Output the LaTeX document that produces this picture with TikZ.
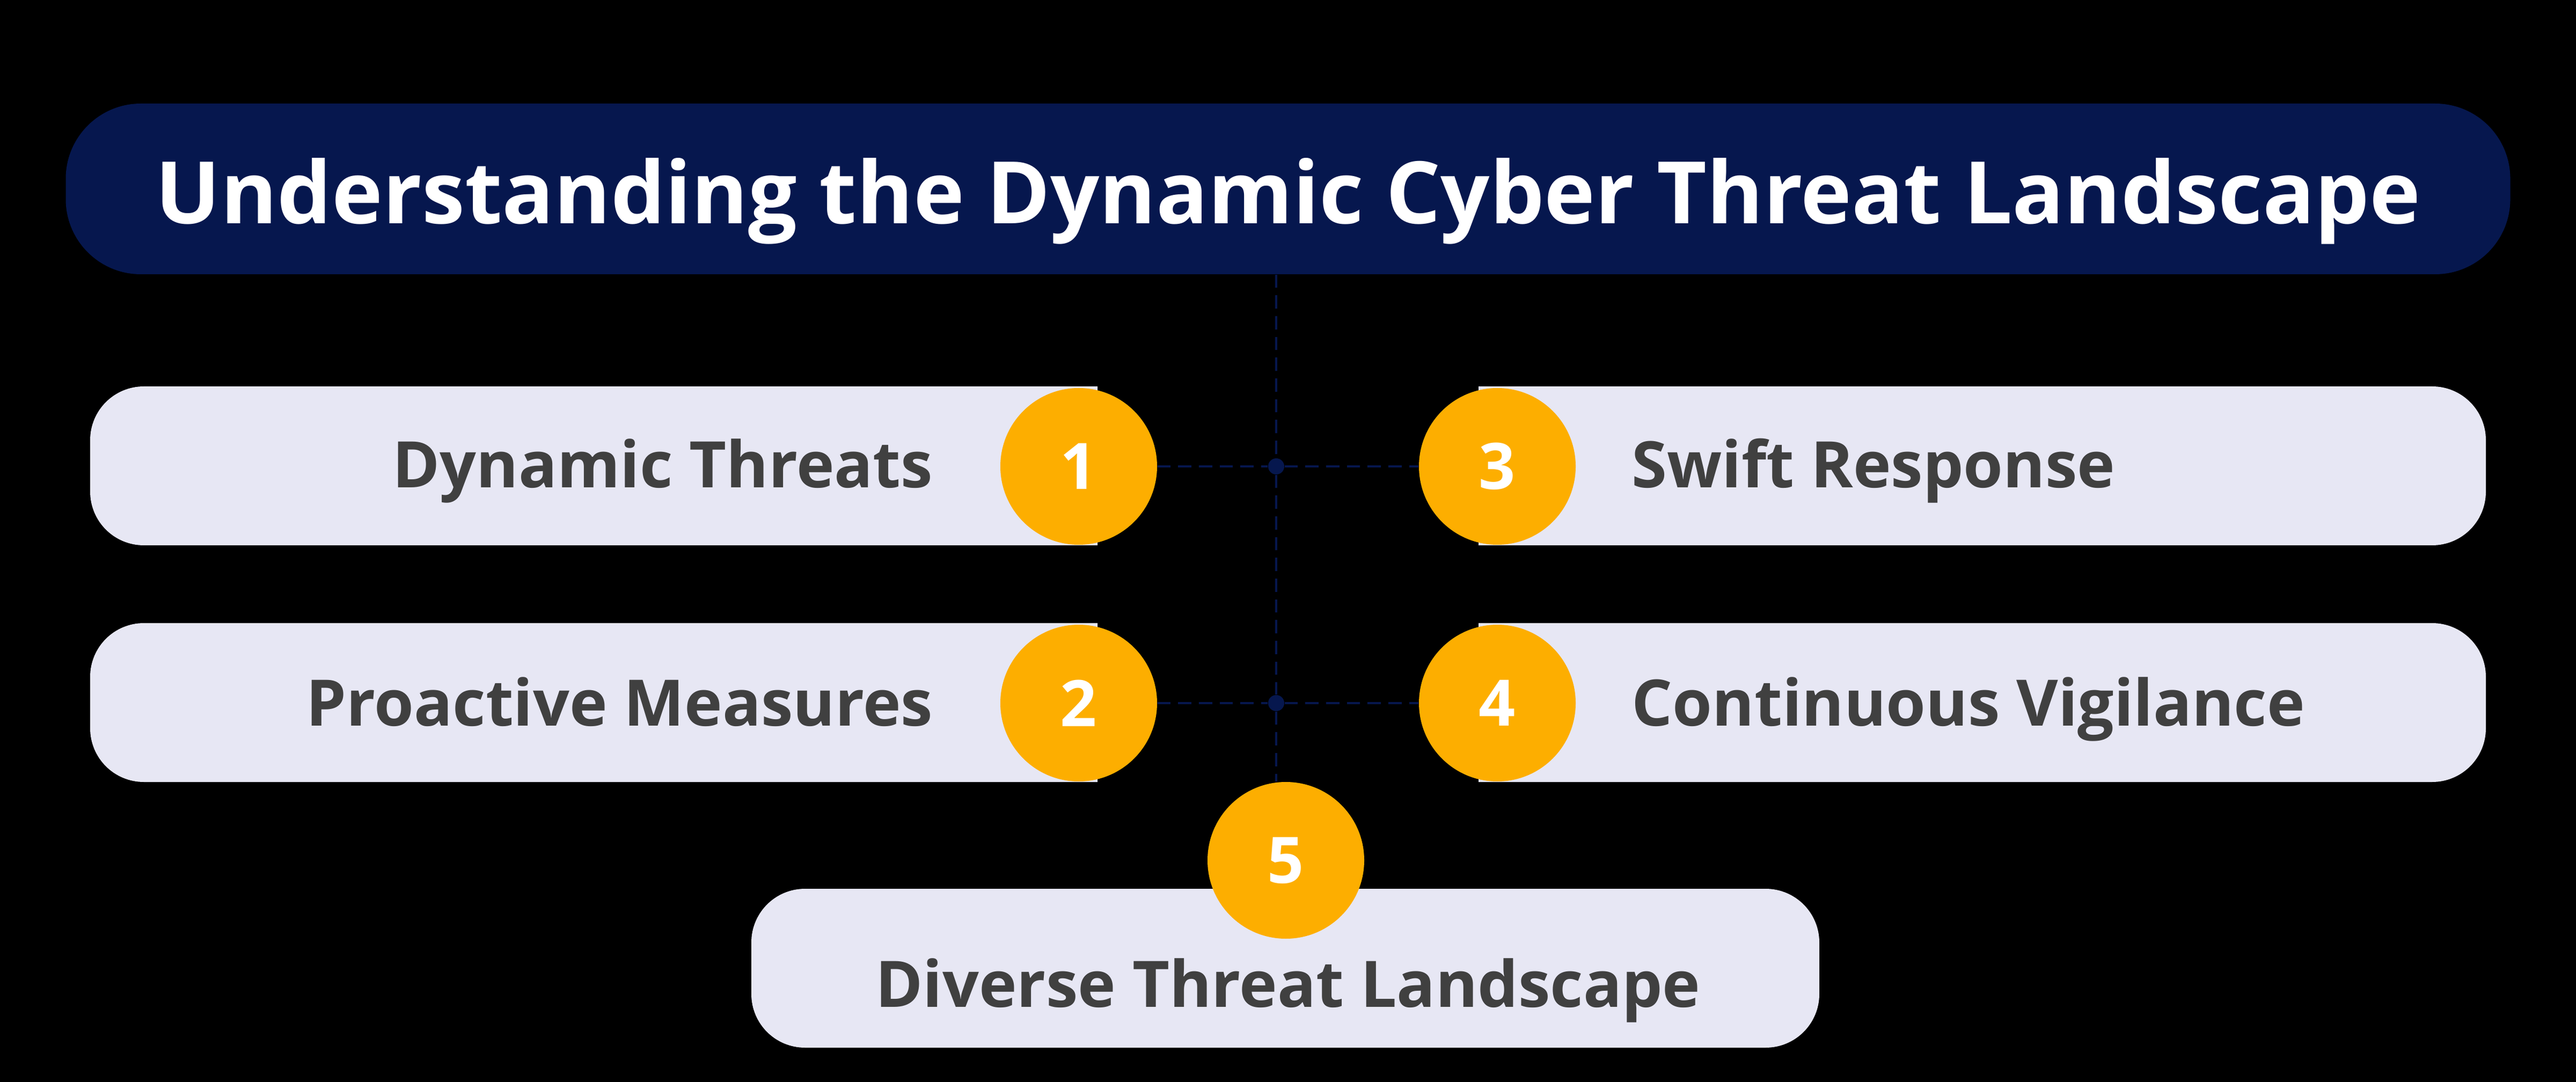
\documentclass[tikz,border=0pt]{standalone}
\usepackage{fontspec}
\setmainfont{Open Sans}
\definecolor{navy}{HTML}{06174E}
\definecolor{pillc}{HTML}{E7E7F4}
\definecolor{gold}{HTML}{FDAE00}
\definecolor{ink}{HTML}{404040}
\tikzset{
  pill/.style={fill=pillc, rounded corners=1cm, minimum height=2.96cm, inner sep=0pt},
  num/.style={circle, fill=gold, minimum size=2.92cm, inner sep=0pt, text=white, font=\fontsize{34}{40}\selectfont\bfseries},
  lbl/.style={inner sep=0pt, text=ink, font=\fontsize{34}{40}\selectfont\bfseries},
  dline/.style={navy, line width=1.4pt, dash pattern=on 7pt off 4pt},
  jdot/.style={circle, fill=navy, minimum size=0.3cm, inner sep=0pt}
}
\begin{document}
\begin{tikzpicture}
      \fill[black] (0,0) rectangle (48,-20.16);
      \useasboundingbox (0,0) rectangle (48,-20.16);

      \node[fill=navy, rounded corners=1.4cm, minimum width=45.55cm, minimum height=3.18cm,
            text=white, font=\fontsize{45.7}{52}\selectfont\bfseries, text height=1.3cm, text depth=0pt]
            (t) at (24,-3.52) {Understanding the Dynamic Cyber Threat Landscape};

      \fill[pillc] (20.45,-7.2) [rounded corners=1cm] -- (1.68,-7.2) -- (1.68,-10.16) [sharp corners] -- (20.45,-10.16) -- cycle;
      \fill[pillc] (20.45,-11.61) [rounded corners=1cm] -- (1.68,-11.61) -- (1.68,-14.57) [sharp corners] -- (20.45,-14.57) -- cycle;
      \fill[pillc] (27.55,-7.2) [rounded corners=1cm] -- (46.32,-7.2) -- (46.32,-10.16) [sharp corners] -- (27.55,-10.16) -- cycle;
      \fill[pillc] (27.55,-11.61) [rounded corners=1cm] -- (46.32,-11.61) -- (46.32,-14.57) [sharp corners] -- (27.55,-14.57) -- cycle;
      \node[pill, minimum width=19.9cm] (p5) at (23.95,-18.04) {};

      \node[lbl, anchor=base east] (l1) at (17.39,-9.09) {Dynamic Threats};
      \node[lbl, anchor=base east] (l2) at (17.39,-13.52) {Proactive Measures};
      \node[lbl, anchor=base west] (l3) at (30.40,-9.09) {Swift Response};
      \node[lbl, anchor=base west] (l4) at (30.40,-13.52) {Continuous Vigilance};
      \node[lbl, anchor=base] (l5) at (24,-18.76) {Diverse Threat Landscape};

      \node[num] (c1) at (20.1,-8.69) {1};
      \node[num] (c2) at (20.1,-13.1) {2};
      \node[num] (c3) at (27.9,-8.69) {3};
      \node[num] (c4) at (27.9,-13.1) {4};
      \node[num] (c5) at (23.96,-16.03) {5};

      \node[jdot] (j1) at (23.78,-8.69) {};
      \node[jdot] (j2) at (23.78,-13.1) {};

      \draw[dline] (t.south -| j1) -- (j1) -- (j2) -- (c5.north -| j2);
      \draw[dline] (c1) -- (j1) -- (c3);
      \draw[dline] (c2) -- (j2) -- (c4);
    \end{tikzpicture}
\end{document}
